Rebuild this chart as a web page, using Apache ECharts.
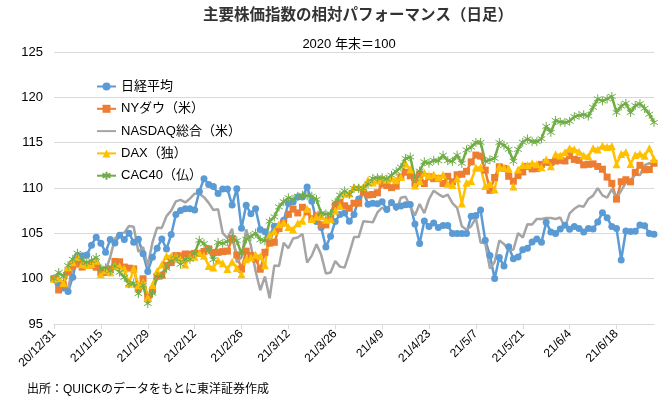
<!DOCTYPE html>
<html>
<head>
<meta charset="utf-8">
<script src="https://cdn.jsdelivr.net/npm/echarts@6/dist/echarts.min.js"></script>
<style>
html,body{margin:0;padding:0;background:#fff;}
#main{width:672px;height:408px;}
</style>
</head>
<body>
<div id="main"></div>
<script>
const categories = [
'20/12/31',
'21/1/4','21/1/5','21/1/6','21/1/7','21/1/8',
'21/1/11','21/1/12','21/1/13','21/1/14','21/1/15',
'21/1/18','21/1/19','21/1/20','21/1/21','21/1/22',
'21/1/25','21/1/26','21/1/27','21/1/28','21/1/29',
'21/2/1','21/2/2','21/2/3','21/2/4','21/2/5',
'21/2/8','21/2/9','21/2/10','21/2/11','21/2/12',
'21/2/15','21/2/16','21/2/17','21/2/18','21/2/19',
'21/2/22','21/2/23','21/2/24','21/2/25','21/2/26',
'21/3/1','21/3/2','21/3/3','21/3/4','21/3/5',
'21/3/8','21/3/9','21/3/10','21/3/11','21/3/12',
'21/3/15','21/3/16','21/3/17','21/3/18','21/3/19',
'21/3/22','21/3/23','21/3/24','21/3/25','21/3/26',
'21/3/29','21/3/30','21/3/31','21/4/1','21/4/2',
'21/4/5','21/4/6','21/4/7','21/4/8','21/4/9',
'21/4/12','21/4/13','21/4/14','21/4/15','21/4/16',
'21/4/19','21/4/20','21/4/21','21/4/22','21/4/23',
'21/4/26','21/4/27','21/4/28','21/4/29','21/4/30',
'21/5/3','21/5/4','21/5/5','21/5/6','21/5/7',
'21/5/10','21/5/11','21/5/12','21/5/13','21/5/14',
'21/5/17','21/5/18','21/5/19','21/5/20','21/5/21',
'21/5/24','21/5/25','21/5/26','21/5/27','21/5/28',
'21/5/31','21/6/1','21/6/2','21/6/3','21/6/4',
'21/6/7','21/6/8','21/6/9','21/6/10','21/6/11',
'21/6/14','21/6/15','21/6/16','21/6/17','21/6/18',
'21/6/21','21/6/22','21/6/23','21/6/24','21/6/25',
'21/6/28','21/6/29','21/6/30'
];

const nikkei = [
100,
99.32,98.96,98.58,100.17,102.53,
102.53,102.62,103.69,104.57,103.92,
102.91,104.33,103.93,104.78,104.33,
105.02,104.02,104.34,102.75,100.80,
102.36,103.35,104.38,103.27,104.86,
107.08,107.51,107.72,107.72,107.56,
109.62,111.02,110.38,110.17,109.38,
109.88,109.88,108.12,109.93,105.55,
108.09,107.16,107.71,105.42,105.17,
104.73,105.77,105.80,106.44,108.29,
108.46,109.02,109.00,110.10,108.55,
106.30,105.65,103.50,104.68,106.31,
107.07,107.25,106.32,107.09,108.78,
109.64,108.21,108.33,108.25,108.47,
107.63,108.41,107.93,108.01,108.16,
108.17,106.04,103.88,106.36,105.74,
106.13,105.64,105.87,105.87,104.99,
104.99,104.99,104.99,106.88,106.97,
107.56,104.24,102.56,100.01,102.33,
101.39,103.51,102.19,102.38,103.18,
103.35,104.04,104.37,104.03,106.21,
105.16,104.99,105.47,105.88,105.46,
105.74,105.54,105.16,105.52,105.48,
106.26,107.28,106.73,105.74,105.54,
102.07,105.25,105.21,105.22,105.91,
105.85,104.99,104.91
];

const nyDow = [
100,
98.75,99.30,100.73,101.42,101.61,
101.28,101.51,101.48,101.26,100.68,
100.68,101.06,101.90,101.86,101.28,
101.16,101.08,99.01,99.99,97.96,
98.71,100.26,100.38,101.47,101.77,
102.55,102.52,102.72,102.69,102.78,
102.78,103.00,103.29,102.90,102.90,
102.99,103.04,104.43,102.60,101.06,
103.04,102.57,102.17,101.04,102.91,
103.91,104.01,105.52,106.14,107.10,
107.67,107.25,107.87,107.37,106.61,
106.94,105.94,105.93,106.58,108.06,
108.38,108.04,107.76,108.32,108.32,
109.54,109.23,109.28,109.47,110.44,
110.26,110.04,110.21,111.21,111.74,
111.34,110.50,111.54,110.49,111.23,
111.03,111.04,110.50,111.29,110.68,
111.46,111.52,111.84,112.88,113.63,
113.52,111.97,109.74,111.16,112.34,
112.16,111.29,110.75,111.36,111.77,
112.38,112.11,112.14,112.61,112.82,
112.82,112.97,113.05,112.98,113.56,
113.15,113.05,112.55,112.61,112.66,
112.38,112.07,111.20,110.51,108.77,
110.69,110.91,110.68,111.73,112.50,
112.01,112.04,112.73
];

const nasdaq = [
100,
98.53,99.46,98.85,101.39,102.43,
101.15,101.43,101.87,101.74,100.86,
100.86,102.40,104.42,104.99,105.08,
105.80,105.72,102.97,103.48,101.42,
104.00,105.62,105.60,106.90,107.51,
108.53,108.69,108.41,108.83,109.37,
109.37,108.99,108.36,107.58,107.65,
105.01,104.48,105.51,101.79,102.36,
105.44,103.65,100.85,98.72,100.25,
97.84,101.44,101.40,103.96,103.35,
104.43,104.53,104.94,101.77,102.54,
103.80,102.63,100.57,100.69,101.94,
101.33,101.22,102.78,104.59,104.59,
106.34,106.29,106.21,107.30,107.85,
107.46,108.59,107.52,108.93,109.03,
107.96,106.97,108.24,107.22,108.76,
109.70,109.33,109.02,109.27,108.34,
107.81,105.78,105.39,105.78,106.70,
103.99,103.89,101.11,101.84,104.20,
103.81,103.22,103.19,105.02,104.52,
106.00,105.97,106.59,106.58,106.68,
106.68,106.58,106.74,105.64,107.19,
107.71,108.04,107.94,108.79,109.16,
109.98,109.19,108.93,109.88,108.86,
109.72,110.59,110.73,111.49,111.42,
112.51,112.73,112.54
];

const dax = [
100,
100.06,99.51,101.26,101.82,102.41,
101.59,101.50,101.61,101.97,100.50,
100.94,100.70,101.48,101.37,101.13,
99.45,101.11,99.28,99.61,97.92,
99.29,100.85,101.57,102.49,102.46,
102.49,102.14,101.56,102.35,102.41,
102.85,102.52,101.39,101.23,102.00,
101.69,101.06,101.87,101.17,100.49,
102.14,102.34,102.63,102.46,101.47,
104.83,105.24,105.99,106.20,105.71,
105.41,106.11,106.40,107.70,106.58,
106.84,106.88,106.50,106.58,107.51,
108.01,109.40,109.40,110.12,110.12,
110.12,110.89,110.62,110.82,111.05,
110.91,111.05,110.86,111.20,112.69,
112.03,110.28,110.77,111.68,111.38,
111.50,111.15,111.47,110.46,110.33,
111.06,108.29,110.58,110.77,112.25,
112.26,110.21,110.43,109.84,112.38,
112.23,112.16,110.17,112.04,112.53,
112.53,112.73,112.62,112.30,113.13,
112.41,113.73,113.58,113.95,114.39,
114.27,114.01,113.58,113.50,114.39,
114.25,114.66,114.52,114.64,112.61,
113.74,113.98,112.66,113.64,113.77,
113.55,114.38,113.21
];

const cac40 = [
100,
100.68,100.24,101.43,102.13,102.80,
102.00,101.79,102.00,102.34,101.09,
101.19,100.85,101.39,100.71,100.15,
99.44,99.50,98.35,99.28,97.26,
98.38,100.22,100.34,101.14,101.94,
102.24,101.60,102.15,102.14,102.74,
104.23,103.86,103.20,102.09,104.00,
103.89,104.11,104.44,104.19,102.73,
104.35,104.65,105.02,104.29,104.17,
106.33,106.82,107.91,108.49,108.92,
108.73,109.08,109.20,109.14,109.10,
108.74,107.21,107.14,107.15,108.42,
109.22,109.67,109.29,109.94,109.94,
109.94,110.45,111.07,111.13,111.13,
110.99,111.40,111.84,112.30,113.25,
113.42,111.05,111.87,112.89,112.73,
113.05,113.00,113.61,113.01,112.94,
113.63,112.72,114.20,114.51,115.02,
115.03,112.94,113.11,113.27,115.02,
114.70,114.27,112.95,114.26,115.04,
115.42,115.12,115.12,115.44,116.80,
116.14,117.45,117.27,117.23,117.37,
117.87,118.01,118.09,117.93,118.90,
119.83,119.60,119.83,120.10,118.33,
119.03,119.35,118.32,119.10,119.30,
118.78,118.14,117.23
];

const seriesNames = ['日経平均','NYダウ（米）','NASDAQ総合（米）','DAX（独）','CAC40（仏）'];
const yTicks = {min:95, max:125, interval:5};

const FONT = "'Liberation Sans', Arial, 'Noto Sans CJK JP', sans-serif";
const chart = echarts.init(document.getElementById('main'), null, {renderer:'canvas'});

function lineSeries(name, data, color, symbol, size, extra) {
  return Object.assign({
    name: name, type: 'line', data: data,
    symbol: symbol, symbolSize: size, showAllSymbol: true,
    lineStyle: {width: 2.5, color: color},
    itemStyle: {color: color},
    emphasis: {disabled: true}, silent: true
  }, extra || {});
}

chart.setOption({
  animation: false,
  backgroundColor: '#fff',
  textStyle: {fontFamily: FONT},
  graphic: [
    {type:'text', x:358, y:16, style:{text:'主要株価指数の相対パフォーマンス（日足）', fontSize:15.5, fontWeight:'bold', fontFamily:FONT, fill:'#333', align:'center', verticalAlign:'middle', textAlign:'center', textVerticalAlign:'middle'}},
    {type:'text', x:349, y:44, style:{text:'2020 年末＝100', fontSize:13, fontFamily:FONT, fill:'#000', align:'center', verticalAlign:'middle', textAlign:'center', textVerticalAlign:'middle'}},
    {type:'text', x:27, y:390, style:{text:'出所：QUICKのデータをもとに東洋証券作成', fontSize:12, fontFamily:FONT, fill:'#000', align:'left', verticalAlign:'middle', textAlign:'left', textVerticalAlign:'middle'}}
  ],
  legend: {
    orient: 'vertical', left: 91, top: 75,
    itemWidth: 19, itemHeight: 10, itemGap: 9.3,
    textStyle: {fontSize: 13, color: '#000', fontFamily: FONT},
    data: [
      seriesNames[0],
      seriesNames[1],
      {name: seriesNames[2], itemStyle: {opacity: 0}},
      seriesNames[3],
      seriesNames[4]
    ]
  },
  grid: {left: 54, right: 18, top: 52, bottom: 84, containLabel: false},
  xAxis: {
    type: 'category', data: categories, boundaryGap: false,
    axisLine: {show: true, lineStyle: {color: '#D9D9D9', width: 1}},
    axisTick: {show: true, interval: 9, length: 5, lineStyle: {color: '#D9D9D9'}},
    axisLabel: {interval: 9, rotate: 45, fontSize: 12, color: '#000', margin: 8, fontFamily: FONT},
    splitLine: {show: false}
  },
  yAxis: {
    type: 'value', min: yTicks.min, max: yTicks.max, interval: yTicks.interval,
    axisLine: {show: false}, axisTick: {show: false},
    axisLabel: {fontSize: 13, color: '#000', margin: 11, fontFamily: FONT},
    splitLine: {lineStyle: {color: '#D9D9D9', width: 1}}
  },
  series: [
    lineSeries(seriesNames[0], nikkei, '#5B9BD5', 'circle', 7),
    lineSeries(seriesNames[1], nyDow, '#ED7D31', 'rect', 7),
    lineSeries(seriesNames[2], nasdaq, '#A5A5A5', 'circle', 0, {showSymbol: false}),
    lineSeries(seriesNames[3], dax, '#FFC000', 'triangle', 8),
    lineSeries(seriesNames[4], cac40, '#70AD47', 'path://M5 0L5 10M0.7 2.5L9.3 7.5M0.7 7.5L9.3 2.5', 9,
      {symbolKeepAspect: true, itemStyle: {color: '#70AD47', borderColor: '#70AD47', borderWidth: 1}})
  ]
});
</script>
</body>
</html>
